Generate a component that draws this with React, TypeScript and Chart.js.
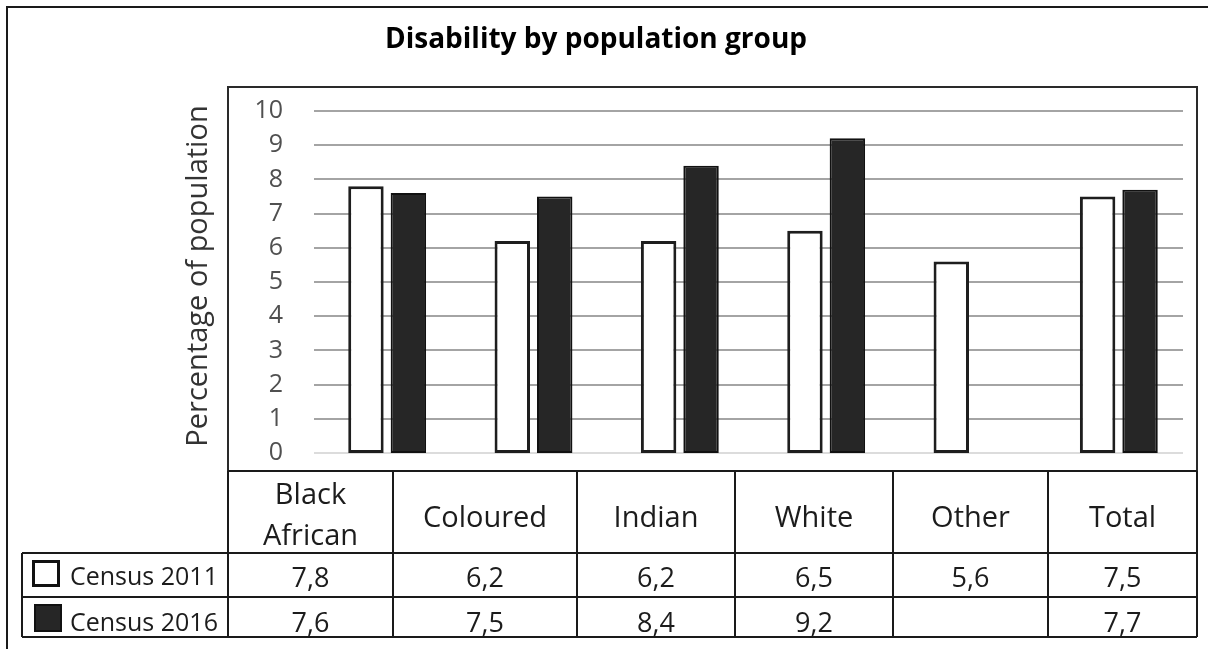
import React, { useEffect, useRef } from 'react';
import { Chart, registerables } from 'chart.js';

Chart.register(...registerables);

// ---------- data ----------
const chartTitle = 'Disability by population group';
const yAxisTitle = 'Percentage of population';
const categories = ['Black African', 'Coloured', 'Indian', 'White', 'Other', 'Total'];
const categoryLines = [['Black', 'African'], ['Coloured'], ['Indian'], ['White'], ['Other'], ['Total']];
const seriesNames = ['Census 2011', 'Census 2016'];
const census2011: (number | null)[] = [7.8, 6.2, 6.2, 6.5, 5.6, 7.5];
const census2016: (number | null)[] = [7.6, 7.5, 8.4, 9.2, null, 7.7];
const yMin = 0;
const yMax = 10;
const yStep = 1;

// ---------- layout / style ----------
const W = 1208;
const H = 649;
const FONT = "'Open Sans', 'Liberation Sans', sans-serif";
const PLOT_BOX = { left: 228, top: 87, right: 1197, bottom: 471 };
const COL_EDGES = [228, 393, 577, 735, 893, 1048, 1197];
const ROW_EDGES = [471, 553, 597, 637];
const TABLE_LEFT = 22;
const GRID_RIGHT_INSET = 9;
const LINE = '#1a1a1a';
const WHITE_FILL = '#ffffff';
const DARK_FILL = '#262626';
const TEXT = '#1c1c1c';

const fmt = (v: number | null) => (v == null ? '' : v.toFixed(1).replace('.', ','));

const decorPlugin = {
  id: 'decor',
  beforeDraw(chart: any) {
    const ctx = chart.ctx;
    ctx.save();
    ctx.fillStyle = '#ffffff';
    ctx.fillRect(0, 0, chart.width, chart.height);
    ctx.restore();
  },
  beforeDatasetsDraw(chart: any) {
    const ctx = chart.ctx;
    const y = chart.scales.y;
    const area = chart.chartArea;
    ctx.save();
    y.ticks.forEach((t: any) => {
      const py = Math.round(y.getPixelForValue(t.value));
      ctx.beginPath();
      ctx.strokeStyle = t.value === 0 ? '#dcdcdc' : '#a4a4a4';
      ctx.lineWidth = 2;
      ctx.moveTo(area.left, py);
      ctx.lineTo(area.right - GRID_RIGHT_INSET, py);
      ctx.stroke();
    });
    ctx.restore();
  },
  afterDraw(chart: any) {
    const ctx = chart.ctx;
    ctx.save();
    // outer frame (top + left)
    ctx.strokeStyle = LINE;
    ctx.lineWidth = 2;
    ctx.beginPath();
    ctx.moveTo(W, 7);
    ctx.lineTo(7, 7);
    ctx.lineTo(7, H);
    ctx.stroke();

    // title
    ctx.fillStyle = '#000000';
    ctx.font = `bold 28px ${FONT}`;
    ctx.textAlign = 'center';
    ctx.textBaseline = 'alphabetic';
    ctx.fillText(chartTitle, 596, 48);

    // y-axis title
    ctx.save();
    ctx.translate(207, 276);
    ctx.rotate(-Math.PI / 2);
    ctx.fillStyle = '#333333';
    ctx.font = `29px ${FONT}`;
    ctx.textAlign = 'center';
    ctx.fillText(yAxisTitle, 0, 0);
    ctx.restore();

    // plot box
    ctx.lineWidth = 2;
    ctx.strokeStyle = '#2a2a2a';
    ctx.strokeRect(PLOT_BOX.left, PLOT_BOX.top, PLOT_BOX.right - PLOT_BOX.left, PLOT_BOX.bottom - PLOT_BOX.top);

    // data table grid
    ctx.strokeStyle = LINE;
    ctx.beginPath();
    ctx.moveTo(COL_EDGES[0], ROW_EDGES[0]);
    ctx.lineTo(COL_EDGES[COL_EDGES.length - 1], ROW_EDGES[0]);
    for (let r = 1; r < ROW_EDGES.length; r++) {
      ctx.moveTo(r === 1 ? COL_EDGES[0] : TABLE_LEFT, ROW_EDGES[r]);
      ctx.lineTo(COL_EDGES[COL_EDGES.length - 1], ROW_EDGES[r]);
    }
    ctx.moveTo(TABLE_LEFT, ROW_EDGES[1]);
    ctx.lineTo(COL_EDGES[0], ROW_EDGES[1]);
    COL_EDGES.forEach((x) => {
      ctx.moveTo(x, ROW_EDGES[0]);
      ctx.lineTo(x, ROW_EDGES[ROW_EDGES.length - 1]);
    });
    ctx.moveTo(TABLE_LEFT, ROW_EDGES[1]);
    ctx.lineTo(TABLE_LEFT, ROW_EDGES[ROW_EDGES.length - 1]);
    ctx.stroke();

    // category labels
    ctx.fillStyle = TEXT;
    ctx.font = `29px ${FONT}`;
    ctx.textAlign = 'center';
    categoryLines.forEach((lines, i) => {
      const cx = (COL_EDGES[i] + COL_EDGES[i + 1]) / 2;
      if (lines.length === 1) {
        ctx.fillText(lines[0], cx, 527);
      } else {
        ctx.fillText(lines[0], cx, 504);
        ctx.fillText(lines[1], cx, 545);
      }
    });

    // values
    const series = [census2011, census2016];
    const baselines = [587, 632];
    ctx.font = `27px ${FONT}`;
    series.forEach((vals, s) => {
      vals.forEach((v, i) => {
        const cx = (COL_EDGES[i] + COL_EDGES[i + 1]) / 2;
        ctx.fillText(fmt(v), cx, baselines[s]);
      });
    });

    // legend keys
    ctx.textAlign = 'left';
    ctx.font = `25px ${FONT}`;
    seriesNames.forEach((name, s) => {
      ctx.fillText(name, 70, s === 0 ? 585 : 631);
    });
    ctx.lineWidth = 3;
    ctx.strokeStyle = '#111111';
    ctx.fillStyle = WHITE_FILL;
    ctx.fillRect(33.5, 561.5, 25, 24);
    ctx.strokeRect(33.5, 561.5, 25, 24);
    ctx.fillStyle = DARK_FILL;
    ctx.lineWidth = 2;
    ctx.fillRect(35, 605, 26, 26);
    ctx.strokeRect(35, 605, 26, 26);

    ctx.restore();
  },
};

export default function App() {
  const canvasRef = useRef<HTMLCanvasElement | null>(null);

  useEffect(() => {
    if (!canvasRef.current) return;
    const chart = new Chart(canvasRef.current, {
      type: 'bar',
      data: {
        labels: categories,
        datasets: [
          {
            label: seriesNames[0],
            data: census2011,
            backgroundColor: WHITE_FILL,
            borderColor: '#1e1e1e',
            borderWidth: 3,
            borderSkipped: false,
            categoryPercentage: 0.58,
            barPercentage: 0.835,
          },
          {
            label: seriesNames[1],
            data: census2016,
            backgroundColor: DARK_FILL,
            borderColor: '#111111',
            borderWidth: 2,
            borderSkipped: false,
            categoryPercentage: 0.58,
            barPercentage: 0.835,
          },
        ],
      },
      options: {
        responsive: false,
        animation: false,
        devicePixelRatio: 1,
        layout: { padding: { top: 111, right: 16, bottom: 196, left: 0 } },
        plugins: {
          legend: { display: false },
          title: { display: false },
          tooltip: { enabled: false },
        },
        scales: {
          x: {
            type: 'category',
            display: false,
            grid: { display: false },
          },
          y: {
            min: yMin,
            max: yMax,
            grid: { display: false, drawTicks: false },
            border: { display: false },
            ticks: {
              stepSize: yStep,
              padding: 31,
              color: '#505050',
              font: { family: FONT, size: 25 },
            },
            afterFit: (s: any) => {
              s.width = 314;
            },
          },
        },
      },
      plugins: [decorPlugin],
    } as any);
    return () => chart.destroy();
  }, []);

  return (
    <div style={{ position: 'absolute', left: 0, top: 0, width: W, height: H }}>
      <canvas ref={canvasRef} width={W} height={H} />
    </div>
  );
}
